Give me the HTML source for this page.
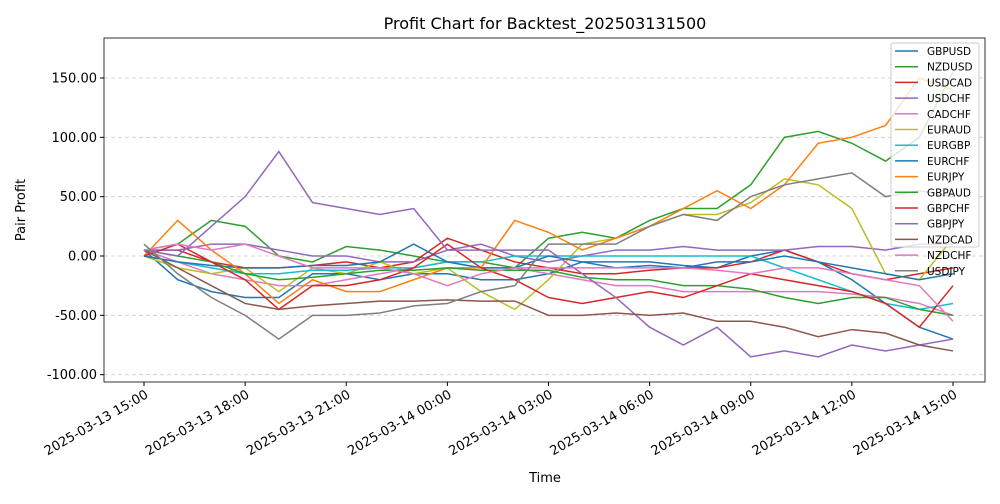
<!DOCTYPE html>
<html><head><meta charset="utf-8"><style>
body{margin:0;background:#fff;font-family:"DejaVu Sans",sans-serif}
svg text{font-family:"DejaVu Sans","Liberation Sans",sans-serif}
</style></head><body>
<svg id="c" width="1000" height="500" xmlns="http://www.w3.org/2000/svg"></svg>
<script>
const hours=[0,1,2,3,4,5,6,7,8,9,10,11,12,13,14,15,16,17,18,19,20,21,22,23,24];
const seriesNames=["GBPUSD","NZDUSD","USDCAD","USDCHF","CADCHF","EURAUD","EURGBP","EURCHF","EURJPY","GBPAUD","GBPCHF","GBPJPY","NZDCAD","NZDCHF","USDJPY"];
const colors=["#1f77b4","#2ca02c","#d62728","#9467bd","#e377c2","#bcbd22","#17becf","#1f77b4","#ff7f0e","#2ca02c","#d62728","#9467bd","#8c564b","#e377c2","#7f7f7f"];
const GBPUSD=[5,-20,-30,-35,-35,-15,-15,-20,-15,-15,-20,-20,-15,-5,-5,-5,-8,-10,0,5,-5,-20,-40,-60,-70];
const NZDUSD=[5,10,30,25,0,-5,8,5,0,-5,-5,-10,15,20,15,30,40,40,60,100,105,95,80,100,155];
const USDCAD=[5,5,-5,-10,-10,-8,-5,-10,-5,15,5,-5,-10,-15,-15,-12,-10,-10,-5,5,-5,-15,-20,-15,-10];
const USDCHF=[5,5,10,10,5,0,0,-5,-5,5,10,0,-5,0,5,5,8,5,5,5,8,8,5,10,10];
const CADCHF=[5,-5,-15,-20,-25,-25,-20,-15,-10,-5,-10,-10,-15,-20,-25,-25,-30,-30,-30,-30,-30,-32,-35,-40,-50];
const EURAUD=[0,-10,-15,-10,-30,-10,-15,-5,-15,-10,-30,-45,-20,10,15,25,35,35,45,65,60,40,-15,-20,15];
const EURGBP=[0,-5,-10,-15,-15,-12,-12,-10,-10,-5,-5,0,0,0,0,0,0,0,0,-10,-20,-30,-40,-45,-40];
const EURCHF=[0,-5,-8,-10,-10,-8,-8,-5,10,-5,-10,-10,0,-5,-10,-8,-10,-5,-5,0,-5,-10,-15,-20,-15];
const EURJPY=[0,30,5,-15,-40,-20,-30,-30,-20,-10,-10,30,20,5,15,25,40,55,40,60,95,100,110,150,140];
const GBPAUD=[5,0,-5,-15,-20,-18,-15,-12,-12,-10,-12,-12,-12,-18,-20,-20,-25,-25,-28,-35,-40,-35,-35,-45,-50];
const GBPCHF=[0,10,-5,-20,-45,-25,-25,-20,-10,10,-10,-20,-35,-40,-35,-30,-35,-25,-15,-20,-25,-30,-40,-60,-25];
const GBPJPY=[5,0,25,50,88,45,40,35,40,5,5,5,5,-15,-35,-60,-75,-60,-85,-80,-85,-75,-80,-75,-70];
const NZDCAD=[5,-10,-25,-40,-45,-42,-40,-38,-38,-37,-38,-38,-50,-50,-48,-50,-48,-55,-55,-60,-68,-62,-65,-75,-80];
const NZDCHF=[5,10,5,10,0,-10,-10,-10,-15,-25,-15,-10,-10,-10,-10,-10,-10,-12,-15,-10,-10,-15,-20,-25,-55];
const USDJPY=[10,-15,-35,-50,-70,-50,-50,-48,-42,-40,-30,-25,10,10,10,25,35,30,50,60,65,70,50,55,50];
const allSeries=[GBPUSD,NZDUSD,USDCAD,USDCHF,CADCHF,EURAUD,EURGBP,EURCHF,EURJPY,GBPAUD,GBPCHF,GBPJPY,NZDCAD,NZDCHF,USDJPY];
const yTicks=[-100,-50,0,50,100,150];
const xTickLabels=["2025-03-13 15:00","2025-03-13 18:00","2025-03-13 21:00","2025-03-14 00:00","2025-03-14 03:00","2025-03-14 06:00","2025-03-14 09:00","2025-03-14 12:00","2025-03-14 15:00"];

const svg=document.getElementById('c');const NS="http://www.w3.org/2000/svg";
const L=104,R=985,T=38,B=382;
const xs=h=>144+h*(953-144)/24;
const ys=v=>256-v*(256-78)/150;
function mk(t,a,p){const e=document.createElementNS(NS,t);for(const k in a)e.setAttribute(k,a[k]);(p||svg).appendChild(e);return e;}
yTicks.forEach(v=>{const y=ys(v);
 const g=mk('line',{x1:L,x2:R,y1:y,y2:y,stroke:'#ccc','stroke-dasharray':'4,3','stroke-width':0.8});
 
 mk('line',{x1:L-4,x2:L,y1:y,y2:y,stroke:'#000'});
 const t=mk('text',{x:L-7,y:y+4.5,'text-anchor':'end','font-size':13});t.textContent=v.toFixed(2);
 });
xTickLabels.forEach((s,i)=>{const x=xs(i*3);
 mk('line',{x1:x,x2:x,y1:B,y2:B+4,stroke:'#000'});
 const ax=x+5,ay=B+15;
 const t=mk('text',{x:ax,y:ay,'text-anchor':'end','font-size':13,transform:`rotate(-30 ${ax} ${ay})`});t.textContent=s;
 });
allSeries.forEach((d,i)=>{const p=mk('polyline',{points:d.map((v,j)=>xs(hours[j])+','+ys(v)).join(' '),fill:'none',stroke:colors[i],'stroke-width':1.5});
 });
const fr=mk('rect',{x:L,y:T,width:R-L,height:B-T,fill:'none',stroke:'#000','stroke-width':0.8});

let t=mk('text',{x:545,y:29,'text-anchor':'middle','font-size':16});t.textContent='Profit Chart for Backtest_202503131500';

t=mk('text',{x:545,y:482,'text-anchor':'middle','font-size':13});t.textContent='Time';

t=mk('text',{x:25,y:210,'text-anchor':'middle','font-size':13,transform:'rotate(-90 25 210)'});t.textContent='Pair Profit';

const lg=mk('g',{});
mk('rect',{x:891,y:43,width:88,height:204,fill:'#fff','fill-opacity':0.8,stroke:'#ccc',rx:2},lg);
seriesNames.forEach((n,i)=>{const y=51+i*15.7;
 const e=mk('g',{},lg);
 mk('line',{x1:895,x2:918,y1:y,y2:y,stroke:colors[i],'stroke-width':1.5},e);
 const tt=mk('text',{x:927,y:y+4,'font-size':10.5},e);tt.textContent=n;});
</script>
</body></html>
